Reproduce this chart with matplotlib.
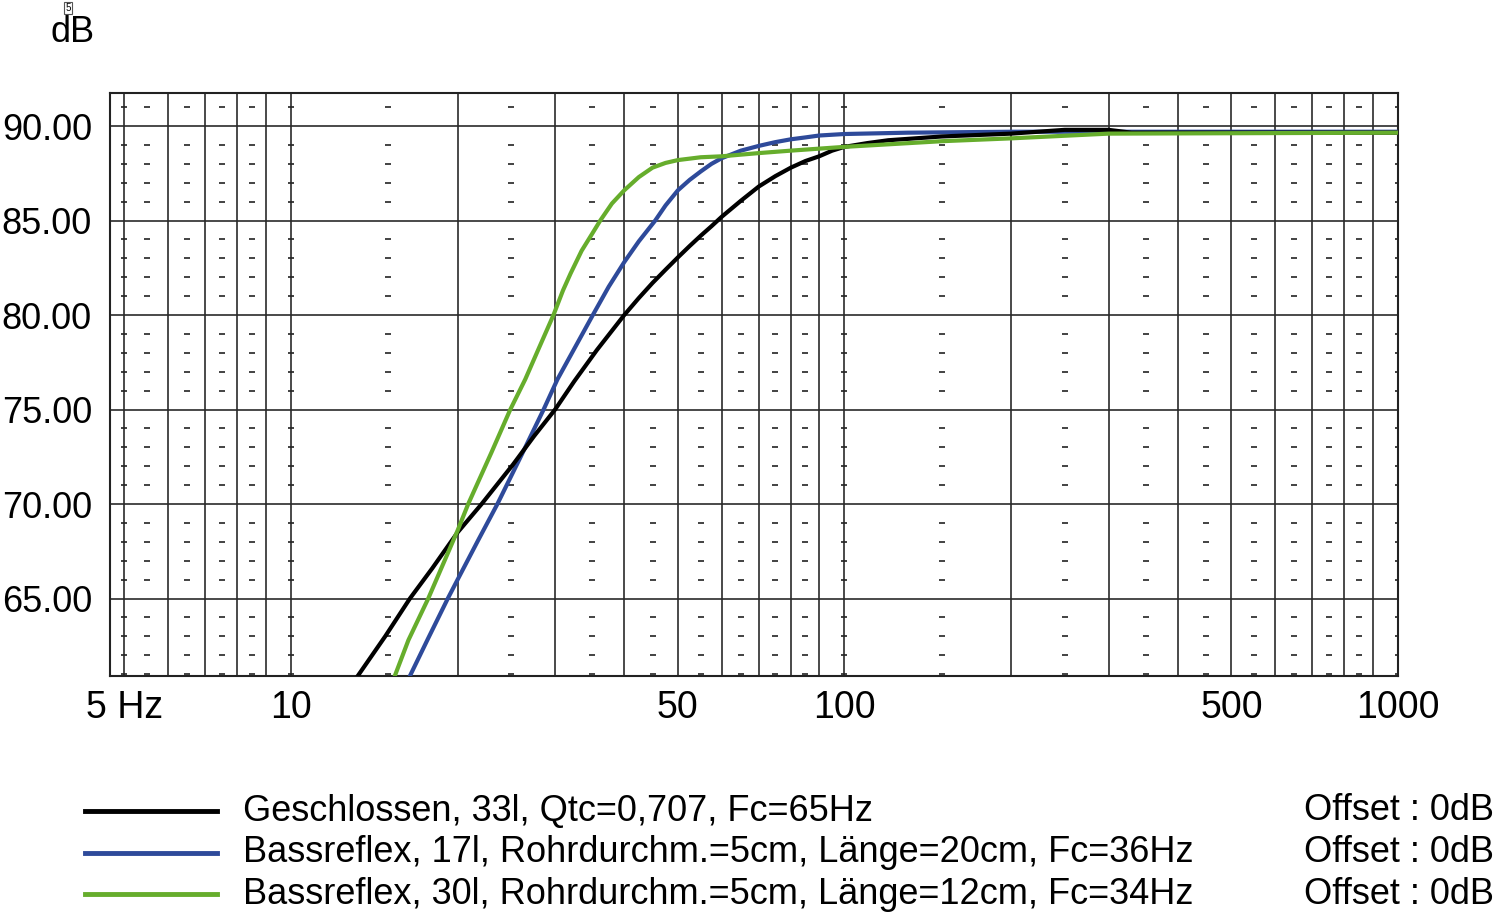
import matplotlib
matplotlib.use('Agg')
import matplotlib.pyplot as plt
from matplotlib.lines import Line2D
from matplotlib.ticker import NullLocator

plt.rcParams['font.family'] = ['Liberation Sans', 'DejaVu Sans']

# Frequenzgänge (Hz / dB)
f_closed = [13.2, 14.8, 16.4, 18.0, 20.0, 22.1, 25.2, 27.5, 30.0, 32.5, 35.7, 40.0, 42.5, 45.0,
            47.5, 50.0, 52.5, 55.0, 57.5, 60.0, 65.0, 70.0, 75.0, 80.0, 85.0, 90.0, 95.0, 100,
            110, 120, 150, 200, 250, 300, 330, 1000]
db_closed = [60.9, 63.0, 65.0, 66.6, 68.5, 70.0, 72.1, 73.6, 75.0, 76.5, 78.15, 80.0, 80.9, 81.7,
             82.4, 83.05, 83.65, 84.2, 84.7, 85.2, 86.05, 86.8, 87.35, 87.8, 88.15, 88.4, 88.7, 88.9,
             89.1, 89.25, 89.45, 89.6, 89.8, 89.8, 89.65, 89.65]

f_br17 = [16.4, 17.7, 19.2, 20.0, 21.8, 23.6, 26.0, 28.6, 30.3, 32.4, 35.1, 37.5, 40.0, 42.5,
          45.5, 47.5, 50.0, 52.5, 55.0, 57.5, 60.0, 65.0, 70.0, 75.0, 80.0, 85.0, 90.0, 100,
          130, 200, 1000]
db_br17 = [60.9, 62.9, 65.0, 66.0, 68.1, 70.0, 72.5, 75.0, 76.6, 78.15, 80.0, 81.5, 82.8, 83.9,
           85.0, 85.8, 86.6, 87.15, 87.6, 88.0, 88.3, 88.7, 88.95, 89.15, 89.3, 89.4, 89.5, 89.58,
           89.65, 89.7, 89.7]

f_br30 = [15.4, 16.3, 17.7, 20.0, 20.9, 23.0, 24.9, 26.5, 28.0, 29.8, 31.0, 32.0, 33.5, 35.0,
          36.2, 38.0, 40.0, 42.5, 45.0, 47.5, 50.0, 55.0, 60.0, 70.0, 80.0, 100, 150, 200,
          300, 1000]
db_br30 = [60.9, 62.8, 65.0, 68.6, 70.0, 72.7, 75.0, 76.6, 78.2, 80.0, 81.3, 82.2, 83.4, 84.3,
           85.0, 85.9, 86.6, 87.3, 87.8, 88.05, 88.2, 88.35, 88.4, 88.57, 88.7, 88.9, 89.2, 89.35,
           89.6, 89.65]

labels = ['Geschlossen, 33l, Qtc=0,707, Fc=65Hz',
          'Bassreflex, 17l, Rohrdurchm.=5cm, Länge=20cm, Fc=36Hz',
          'Bassreflex, 30l, Rohrdurchm.=5cm, Länge=12cm, Fc=34Hz']
colors = ['#000000', '#2e4a9a', '#66ad2c']

x_ticks = [5, 10, 50, 100, 500, 1000]
x_ticklabels = ['5 Hz', '10', '50', '100', '500', '1000']
y_ticks = [65, 70, 75, 80, 85, 90]

fig = plt.figure(figsize=(15, 9.17), dpi=100)
ax = fig.add_axes([110 / 1500, 1 - 676 / 917, 1288 / 1500, 583 / 917])
ax.set_xscale('log')
ax.set_xlim(4.71, 1000)
ax.set_ylim(60.9, 91.75)

# Gitter: durchgezogene Linien
major_x = [5, 6, 7, 8, 9] + list(range(10, 100, 10)) + list(range(100, 1001, 100))
for xv in major_x:
    ax.axvline(xv, color='#2a2a2a', lw=1.2, zorder=1)
for yv in y_ticks:
    ax.axhline(yv, color='#2a2a2a', lw=1.2, zorder=1)

# kleine Striche pro dB
dash_x = [5, 5.5, 6.5, 7.5, 8.5, 10] + [k + 5 for k in range(10, 90, 10)] + [100] + \
         [k + 50 for k in range(100, 900, 100)] + [1000]
dash_y = [v for v in range(61, 92) if v % 5 != 0]
for yv in dash_y:
    ax.plot(dash_x, [yv] * len(dash_x), ls='none', marker='_', ms=5, mew=1.2,
            color='#222222', zorder=1)

curves = [(f_br17, db_br17), (f_closed, db_closed), (f_br30, db_br30)]
order = [1, 0, 2]
for i, (f, db) in zip(order, curves):
    ax.plot(f, db, color=colors[i], lw=3, zorder=3 + (i == 2), solid_joinstyle='round')

ax.xaxis.set_minor_locator(NullLocator())
ax.set_xticks(x_ticks)
ax.set_xticklabels(x_ticklabels)
ax.set_yticks(y_ticks)
ax.set_yticklabels(['%.2f' % v for v in y_ticks])
ax.tick_params(axis='both', length=0, labelsize=27)
ax.tick_params(axis='y', pad=13, labelsize=26)
ax.tick_params(axis='x', pad=10)
for s in ax.spines.values():
    s.set_linewidth(1.5)
    s.set_color('#222222')

# Achsenbeschriftung oben links
fig.text(50 / 1500, 1 - 32 / 917, 'dB', fontsize=26, ha='left', va='center')
fig.text(68 / 1500, 1 - 8 / 917, '5', fontsize=7, ha='center', va='center',
         bbox=dict(boxstyle='square,pad=0.1', fc='white', ec='#555555', lw=0.8))

# Legende
legend_y = [811, 853, 894]
for i in range(3):
    y = 1 - legend_y[i] / 917
    fig.add_artist(Line2D([85 / 1500, 217 / 1500], [y, y], color=colors[i], lw=3.5))
    fig.text(243 / 1500, y, labels[i], fontsize=26, ha='left', va='center')
    fig.text(1494 / 1500, y, 'Offset : 0dB', fontsize=26, ha='right', va='center')

fig.savefig('out.png', dpi=100)
